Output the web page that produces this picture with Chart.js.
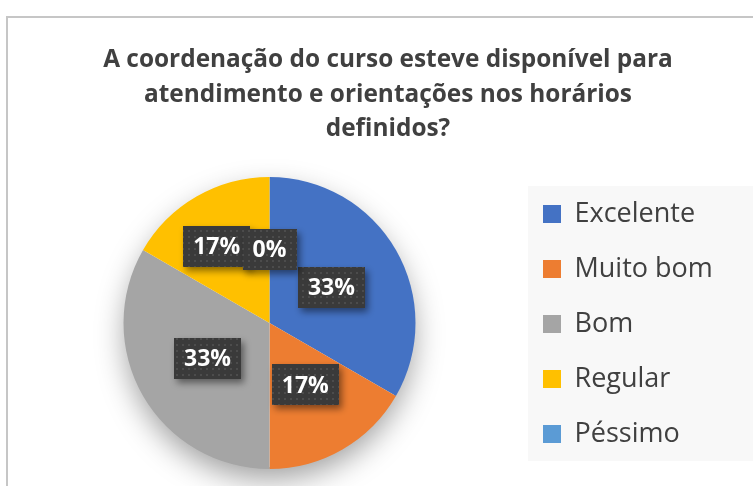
<!DOCTYPE html>
<html>
<head>
<meta charset="utf-8">
<script src="https://cdn.jsdelivr.net/npm/chart.js@4.4.1/dist/chart.umd.min.js"></script>
<style>
  html, body { margin: 0; padding: 0; background: #fff; overflow: hidden; }
  #wrap { width: 753px; height: 486px; }
</style>
</head>
<body>
<div id="wrap"><canvas id="myChart" width="753" height="486"></canvas></div>
<script>
const titleLines = [
  "A coordenação do curso esteve disponível para",
  "atendimento e orientações nos horários",
  "definidos?"
]
const categories = ["Excelente", "Muito bom", "Bom", "Regular", "Péssimo"]
const values = [2, 1, 2, 1, 0]
const percentLabels = ["33%", "17%", "33%", "17%", "0%"]
const colors = ["#4472c4", "#ed7d31", "#a5a5a5", "#ffc000", "#5b9bd5"]

const legendFont = { family: "'Open Sans', sans-serif", size: 27 }
const legendPad = 28

// largura do texto mais longo da legenda, para ajustar o padding à direita
const mctx = document.createElement("canvas").getContext("2d")
mctx.font = legendFont.size + "px " + legendFont.family
let maxW = 0
categories.forEach(function (c) {
  maxW = Math.max(maxW, mctx.measureText(c).width)
})
const padRight = Math.max(0, 753 - 515 - (legendPad + 18 + legendFont.size / 2 + maxW + 10))

// textura pontilhada das caixas de rótulo
function makeDots() {
  const p = document.createElement("canvas")
  p.width = 6
  p.height = 6
  const c = p.getContext("2d")
  c.fillStyle = "#3a3a3a"
  c.fillRect(0, 0, 6, 6)
  c.fillStyle = "#4c4c4c"
  c.fillRect(2, 2, 2, 2)
  return mctx.createPattern(p, "repeat")
}

const frame = {
  id: "frame",
  beforeDraw(chart) {
    const ctx = chart.ctx
    ctx.save()
    ctx.fillStyle = "#c6c6c6"
    ctx.fillRect(6, 16, 747, 2)
    ctx.fillRect(6, 16, 2, 470)
    ctx.fillStyle = "#f8f8f8"
    ctx.fillRect(528, 186, 225, 275)
    ctx.restore()
  },
  afterLayout(chart) {
    // título centrado no quadro, legenda alinhada à altura da pizza
    const t = chart.titleBlock
    const dx = 388 - (t.left + t.right) / 2
    t.left += dx
    t.right += dx
    const lg = chart.legend
    lg.top = chart.chartArea.top - 9
    lg.bottom = chart.chartArea.bottom + 11
  },
  beforeDatasetsDraw(chart) {
    // sombra suave sob a pizza
    const arc = chart.getDatasetMeta(0).data[0]
    if (!arc) return
    const ctx = chart.ctx
    ctx.save()
    ctx.shadowColor = "rgba(0,0,0,0.38)"
    ctx.shadowBlur = 30
    ctx.shadowOffsetY = 12
    ctx.fillStyle = "#ffffff"
    ctx.beginPath()
    ctx.arc(arc.x, arc.y, arc.outerRadius - 2, 0, Math.PI * 2)
    ctx.fill()
    ctx.restore()
  }
}

const labelNudge = [[0, 0], [0, 0], [0, 0], [-17, -15], [0, -2]]

const pieLabels = {
  id: "pieLabels",
  afterDatasetsDraw(chart) {
    const ctx = chart.ctx
    const pattern = makeDots()
    const arcs = chart.getDatasetMeta(0).data
    ctx.save()
    ctx.font = "bold 23px 'Open Sans', sans-serif"
    ctx.textAlign = "center"
    ctx.textBaseline = "middle"
    arcs.forEach(function (a, i) {
      const mid = (a.startAngle + a.endAngle) / 2
      const r = a.outerRadius * 0.49
      const x = a.x + Math.cos(mid) * r + labelNudge[i][0]
      const y = a.y + Math.sin(mid) * r + labelNudge[i][1]
      const txt = percentLabels[i]
      const w = ctx.measureText(txt).width + 20
      const h = 41
      ctx.save()
      ctx.shadowColor = "rgba(0,0,0,0.45)"
      ctx.shadowBlur = 7
      ctx.shadowOffsetX = 3
      ctx.shadowOffsetY = 4
      ctx.fillStyle = pattern
      ctx.fillRect(Math.round(x - w / 2), Math.round(y - h / 2), Math.round(w), h)
      ctx.restore()
      ctx.fillStyle = "#ffffff"
      ctx.fillText(txt, x, y + 1)
    })
    ctx.restore()
  }
}

const data = {
  labels: categories,
  datasets: [
    {
      data: values,
      backgroundColor: colors,
      borderWidth: 0
    }
  ]
}

const config = {
  type: "pie",
  data: data,
  options: {
    responsive: false,
    animation: false,
    layout: { padding: { top: 16, left: 24, right: padRight, bottom: 17 } },
    plugins: {
      title: {
        display: true,
        text: titleLines,
        color: "#404040",
        font: { family: "'Open Sans', sans-serif", size: 24.4, weight: "bold", lineHeight: "34.5px" },
        padding: { top: 27, bottom: 30.5 }
      },
      legend: {
        position: "right",
        labels: {
          color: "#404040",
          font: legendFont,
          boxWidth: 18,
          boxHeight: 18,
          padding: legendPad
        }
      },
      tooltip: { enabled: false }
    }
  },
  plugins: [frame, pieLabels]
}

const myChart = new Chart(document.getElementById("myChart"), config)
</script>
</body>
</html>
